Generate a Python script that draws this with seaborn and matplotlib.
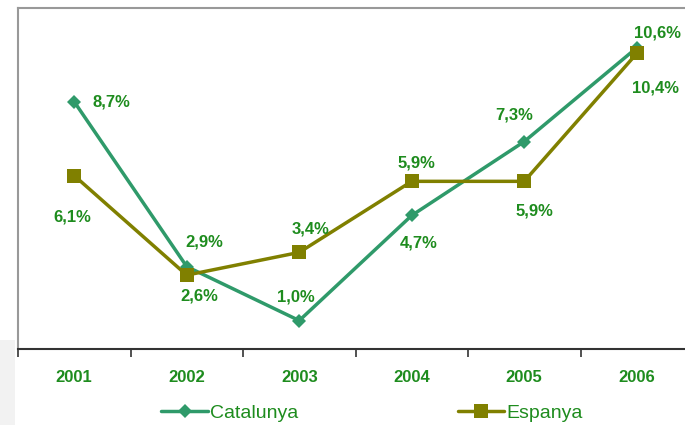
import seaborn as sns
import matplotlib.pyplot as plt
import matplotlib.patches as mpatches
import pandas as pd

# dades
anys = ['2001', '2002', '2003', '2004', '2005', '2006']
catalunya = [8.7, 2.9, 1.0, 4.7, 7.3, 10.6]
espanya = [6.1, 2.6, 3.4, 5.9, 5.9, 10.4]

# desplaçament de les etiquetes (pixels)
off_cat = [(37, 0), (18, 25), (-3, 24), (7, -28), (-10, 27), (21, 15)]
off_esp = [(-2, -41), (13, -21), (11, 23), (5, 18), (10, -30), (19, -35)]

df = pd.DataFrame({
    'pos': list(range(len(anys))) * 2,
    'valor': catalunya + espanya,
    'serie': ['Catalunya'] * len(anys) + ['Espanya'] * len(anys),
})

sns.set_style('white')
plt.rcParams['font.family'] = ['Liberation Sans', 'DejaVu Sans']

verd = '#2f9a6a'
oliva = '#808000'
txt = '#1e8c1e'

fig = plt.figure(figsize=(6.85, 4.25), dpi=100)
fig.add_artist(mpatches.Rectangle((0, 0), 15 / 685, 85 / 425, transform=fig.transFigure,
                                  facecolor='#f2f2f2', edgecolor='none'))
ax = fig.add_axes([18 / 685, 1 - 349 / 425, 675 / 685, 341 / 425])

sns.lineplot(data=df, x='pos', y='valor', hue='serie', style='serie',
             palette={'Catalunya': verd, 'Espanya': oliva},
             markers={'Catalunya': 'D', 'Espanya': 's'}, dashes=False,
             linewidth=2.5, markeredgewidth=0, ax=ax, legend=False)
for ln in ax.lines:
    if ln.get_marker() == 's':
        ln.set_markersize(10)
    else:
        ln.set_markersize(7)

for i, v in enumerate(catalunya):
    ax.annotate(f'{v:.1f}%'.replace('.', ','), (i, v), xytext=off_cat[i],
                textcoords='offset pixels', ha='center', va='center',
                color=txt, fontsize=12, fontweight='bold')
for i, v in enumerate(espanya):
    ax.annotate(f'{v:.1f}%'.replace('.', ','), (i, v), xytext=off_esp[i],
                textcoords='offset pixels', ha='center', va='center',
                color=txt, fontsize=12, fontweight='bold')

ax.set_xlim(-0.5, 5.5)
ax.set_ylim(0, 12)
ax.set_xticks([i - 0.5 for i in range(7)])
ax.set_xticklabels([])
ax.set_xticks(range(6), minor=True)
ax.set_xticklabels(anys, minor=True, color=txt, fontsize=12, fontweight='bold')
ax.tick_params(axis='x', which='major', direction='out', length=6, width=1.2,
               color='#333333', bottom=True)
ax.tick_params(axis='x', which='minor', length=0, pad=15)
ax.set_yticks([])
ax.set_xlabel('')
ax.set_ylabel('')
ax.spines['right'].set_visible(False)
ax.spines['left'].set_color('#999999')
ax.spines['top'].set_color('#999999')
ax.spines['left'].set_linewidth(1.5)
ax.spines['top'].set_linewidth(1.5)
ax.spines['bottom'].set_color('#333333')
ax.spines['bottom'].set_linewidth(1.5)

h1 = plt.Line2D([], [], color=verd, lw=2.5, marker='D', markersize=7, markeredgewidth=0)
h2 = plt.Line2D([], [], color=oliva, lw=2.5, marker='s', markersize=10, markeredgewidth=0)
fig.legend([h1, h2], ['Catalunya', 'Espanya'], loc='center', ncol=2,
           bbox_to_anchor=(0.543, 0.028), frameon=False, fontsize=14,
           labelcolor=txt, handlelength=2.4, handletextpad=0.1, columnspacing=8.2)

plt.savefig('out.png', dpi=100)
